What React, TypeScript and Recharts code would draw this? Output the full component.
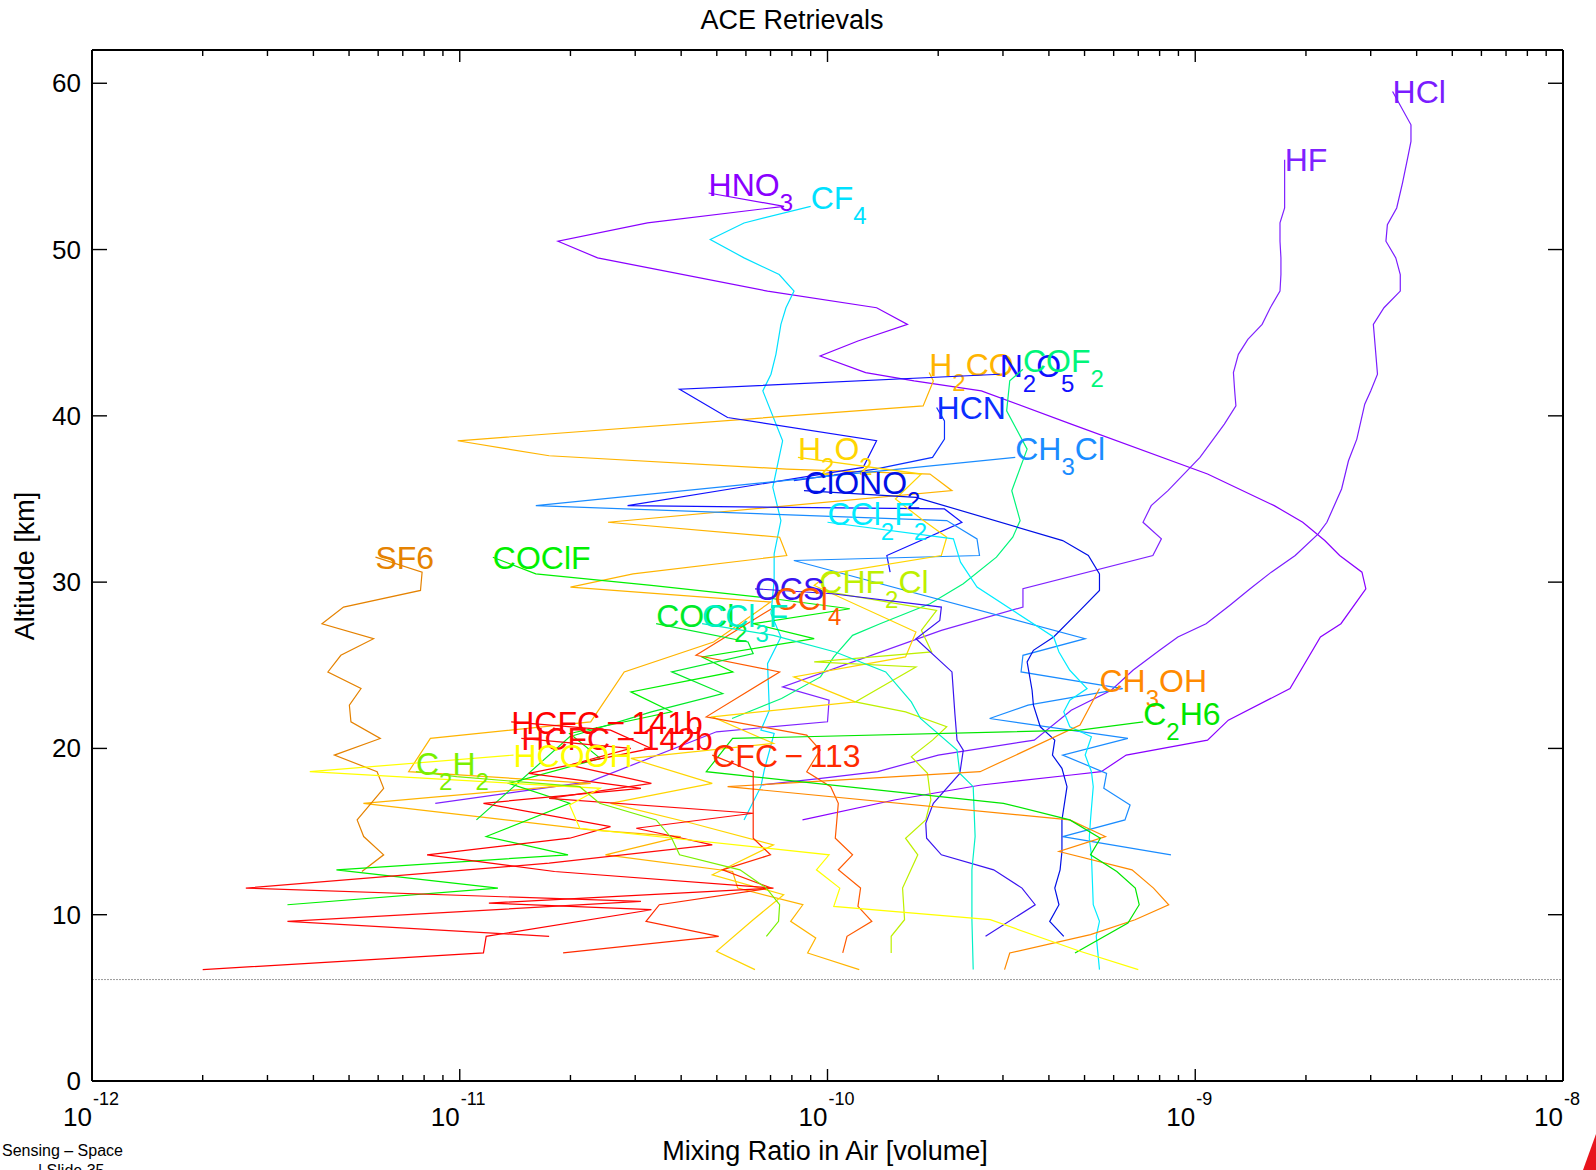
import React from 'react';
import {ScatterChart, Scatter, XAxis, YAxis, ReferenceLine} from 'recharts';

const W = 1596;
const H = 1170;
const PLOT = {left: 92, right: 1563, top: 50, bottom: 1081};
const FONT = '"Liberation Sans", Arial, Helvetica, sans-serif';

const decades = [1e-12, 1e-11, 1e-10, 1e-9, 1e-8];
const decadeExp = ['-12', '-11', '-10', '-9', '-8'];
const altTicks = [0, 10, 20, 30, 40, 50, 60];
const tropopause = 6.1;

// profiles as [altitude km, volume mixing ratio], top point first
const hcl = [[59.5,3.44e-9],[57.5,3.86e-9],[56.5,3.86e-9],[55.5,3.78e-9],[54.0,3.66e-9],[52.5,3.53e-9],[51.5,3.33e-9],[50.5,3.3e-9],[49.5,3.51e-9],[48.5,3.61e-9],[47.5,3.61e-9],[46.5,3.26e-9],[45.5,3.05e-9],[44.0,3.09e-9],[42.5,3.13e-9],[41.5,3.0e-9],[40.7,2.89e-9],[38.6,2.75e-9],[37.3,2.61e-9],[35.6,2.5e-9],[33.6,2.28e-9],[32.9,2.16e-9],[31.6,1.87e-9],[30.6,1.61e-9],[29.6,1.41e-9],[28.6,1.24e-9],[27.5,1.07e-9],[26.7,8.97e-10],[25.9,8.0e-10],[24.7,6.77e-10],[23.5,5.91e-10],[22.3,4.6e-10],[20.5,3.65e-10],[19.6,2.0e-10],[18.6,1.37e-10],[18.2,9.6e-11],[17.8,6.6e-11]];
const hf = [[55.4,1.75e-9],[52.5,1.75e-9],[51.6,1.7e-9],[50.5,1.7e-9],[49.5,1.71e-9],[48.5,1.71e-9],[47.5,1.7e-9],[46.5,1.6e-9],[45.5,1.52e-9],[44.6,1.39e-9],[43.7,1.31e-9],[42.6,1.27e-9],[41.5,1.28e-9],[40.6,1.29e-9],[39.5,1.2e-9],[37.5,1.03e-9],[35.5,8.43e-10],[34.6,7.59e-10],[33.6,7.21e-10],[32.6,8.09e-10],[31.6,7.67e-10],[29.6,3.4e-10],[28.5,3.4e-10],[27.1,2.04e-10],[23.7,7.55e-11],[22.9,1.01e-10],[21.6,1.0e-10],[21.0,4.99e-11],[18.0,2.26e-11],[16.7,8.58e-12]];
const hno3 = [[53.4,4.75e-11],[52.6,7.62e-11],[51.6,3.24e-11],[50.5,1.85e-11],[49.5,2.37e-11],[47.5,6.87e-11],[46.5,1.36e-10],[45.5,1.65e-10],[44.5,1.21e-10],[43.6,9.55e-11],[42.6,1.27e-10],[42.1,1.72e-10],[41.5,2.62e-10],[39.5,4.6e-10],[36.5,1.08e-9],[34.6,1.64e-9],[33.6,1.96e-9],[32.5,2.25e-9],[31.6,2.47e-9],[30.6,2.84e-9],[29.6,2.91e-9],[27.5,2.49e-9],[26.7,2.19e-9],[23.6,1.81e-9],[21.7,1.23e-9],[20.5,1.08e-9],[19.6,6.49e-10],[18.6,5.55e-10],[18.4,4.6e-10],[17.8,2.62e-10],[16.9,1.52e-10],[15.7,8.55e-11]];
const cf4 = [[52.6,9.0e-11],[51.6,5.93e-11],[50.6,4.8e-11],[49.5,5.93e-11],[48.5,7.39e-11],[47.5,8.11e-11],[46.5,7.71e-11],[45.5,7.47e-11],[43.7,7.24e-11],[42.5,7.02e-11],[41.5,6.67e-11],[38.5,7.55e-11],[35.7,7.1e-11],[33.7,7.47e-11],[31.7,7.16e-11],[30.1,7.16e-11],[28.1,7.02e-11],[26.7,7.47e-11],[25.1,6.87e-11],[22.3,6.95e-11],[21.1,6.59e-11],[20.9,7.16e-11],[18.7,6.73e-11],[17.7,6.59e-11],[15.7,5.93e-11]];
const h2co = [[42.6,1.89e-10],[42.1,1.94e-10],[40.6,1.82e-10],[38.5,9.87e-12],[37.6,1.75e-11],[36.8,7.75e-11],[36.5,1.9e-10],[35.5,2.18e-10],[33.6,2.53e-11],[32.7,7.41e-11],[31.6,7.75e-11],[30.5,2.96e-11],[29.7,2.0e-11],[28.8,7.0e-11],[26.4,4.9e-11],[24.6,2.8e-11],[21.6,2.27e-11],[20.6,8.32e-12],[18.6,7.26e-12],[17.9,2.27e-11],[16.7,5.47e-12],[15.1,2.27e-11],[14.7,3.99e-11],[13.6,2.49e-11],[12.6,5.52e-11],[11.6,5.7e-11],[10.6,8.57e-11],[9.6,7.94e-11],[8.6,9.29e-11],[7.7,8.83e-11],[6.7,1.22e-10]];
const n2o5 = [[42.5,2.94e-10],[41.6,3.96e-11],[39.9,5.35e-11],[38.5,1.36e-10],[36.9,1.25e-10],[34.6,2.86e-11],[34.4,2.08e-10],[33.6,2.32e-10],[31.6,1.45e-10],[30.6,1.48e-10]];
const cof2 = [[42.8,3.4e-10],[42.1,3.13e-10],[40.3,3.07e-10],[38.0,3.49e-10],[35.5,3.17e-10],[33.7,3.34e-10],[32.7,3.19e-10],[31.5,2.88e-10],[29.9,2.34e-10],[28.7,1.9e-10],[27.5,1.39e-10],[26.8,1.17e-10],[25.5,1.04e-10],[24.3,9.57e-11],[23.0,7.5e-11],[21.8,5.5e-11]];
const hcn = [[40.5,1.98e-10],[39.7,2.08e-10],[38.6,2.08e-10],[37.5,1.93e-10],[36.8,1.35e-10],[36.1,8.1e-11]];
const ch3cl = [[37.5,3.24e-10],[34.6,1.61e-11],[33.7,2.11e-10],[32.6,2.55e-10],[31.6,2.59e-10],[31.3,8.1e-11],[26.6,5.02e-10],[25.6,3.4e-10],[24.6,3.36e-10],[23.6,6.35e-10],[22.6,3.51e-10],[21.8,2.76e-10],[20.6,6.56e-10],[19.6,4.36e-10],[18.5,5.74e-10],[17.6,5.64e-10],[16.6,6.65e-10],[15.7,6.44e-10],[14.7,4.36e-10],[13.6,8.59e-10]];
const h2o2 = [[37.5,8.31e-11],[36.5,1.8e-10],[35.0,1.53e-10],[33.8,1.8e-10],[32.7,2.11e-10],[31.6,2.04e-10],[30.5,1.01e-10],[29.8,9.2e-11],[27.0,1.74e-10],[25.5,1.63e-10],[24.3,8.1e-11],[22.8,1.19e-10],[21.9,4.86e-11],[20.3,7.13e-11],[19.4,2.92e-11],[17.9,4.86e-11],[16.7,2.57e-11],[15.5,4.28e-11],[14.2,7.13e-11],[12.4,4.86e-11],[11.2,7.6e-11],[9.7,6.28e-11],[7.8,4.99e-11],[6.7,6.35e-11]];
const clono2 = [[35.5,8.63e-11],[35.1,1.74e-10],[32.5,4.36e-10],[31.6,5.12e-10],[30.5,5.49e-10],[29.5,5.49e-10],[28.3,4.86e-10],[26.7,4.12e-10],[25.9,3.63e-10],[25.2,3.49e-10],[23.5,3.6e-10],[22.6,3.63e-10],[21.3,3.79e-10],[20.5,4.15e-10],[19.6,4.09e-10],[18.8,4.34e-10],[17.7,4.48e-10],[15.7,4.34e-10],[13.8,4.34e-10],[12.7,4.29e-10],[11.6,4.15e-10],[10.6,4.26e-10],[9.6,4.02e-10],[8.7,4.39e-10]];
const ccl2f2 = [[33.6,1.0e-10],[32.6,2.2e-10],[31.2,2.3e-10],[29.7,2.55e-10],[26.7,4.12e-10],[25.8,4.26e-10],[24.7,4.56e-10],[23.6,5.08e-10],[22.9,4.56e-10],[22.2,4.39e-10],[21.3,4.56e-10],[20.7,5.22e-10],[19.6,5.02e-10],[18.6,5.22e-10],[17.7,5.28e-10],[15.7,5.19e-10],[14.6,5.15e-10],[13.6,5.22e-10],[10.6,5.28e-10],[9.6,5.49e-10],[8.7,5.38e-10],[6.7,5.49e-10]];
const sf6 = [[31.5,5.9e-12],[30.6,7.9e-12],[29.5,7.82e-12],[28.5,4.83e-12],[27.5,4.22e-12],[26.6,5.83e-12],[25.6,4.75e-12],[24.6,4.38e-12],[23.6,5.39e-12],[22.6,5.01e-12],[21.6,5.06e-12],[20.6,6.08e-12],[19.6,4.56e-12],[18.6,5.96e-12],[17.6,6.21e-12],[15.7,5.26e-12],[14.7,5.48e-12],[13.6,6.21e-12],[12.6,5.42e-12]];
const coclf = [[31.5,1.23e-11],[30.5,1.61e-11],[29.8,3.32e-11],[29.0,7.13e-11],[28.4,1.15e-10],[27.5,6.28e-11],[26.6,9.2e-11],[25.5,4.56e-11],[24.6,5.53e-11],[23.4,2.92e-11],[22.2,3.77e-11],[20.9,1.99e-11],[19.4,2.41e-11],[17.9,1.36e-11],[16.7,1.99e-11],[14.7,1.18e-11],[13.6,1.97e-11],[12.7,4.62e-12],[11.6,1.27e-11],[10.6,3.4e-12]];
const chf2cl = [[29.5,9.5e-11],[28.3,1.98e-10],[27.1,1.8e-10],[25.8,1.92e-10],[25.2,9.2e-11],[24.9,1.74e-10],[22.8,1.19e-10],[22.2,1.63e-10],[21.3,2.11e-10],[20.5,1.93e-10],[19.5,1.69e-10],[18.5,1.87e-10],[16.9,1.91e-10],[15.7,1.85e-10],[14.6,1.63e-10],[13.6,1.76e-10],[11.6,1.6e-10],[9.7,1.62e-10],[8.7,1.49e-10],[7.7,1.49e-10]];
const ocs = [[29.6,6.35e-11],[29.3,1.03e-10],[28.5,2.04e-10],[27.7,2.02e-10],[26.6,1.74e-10],[24.6,2.18e-10],[22.1,2.22e-10],[20.5,2.25e-10],[19.9,2.34e-10],[18.5,2.29e-10],[16.7,1.94e-10],[15.5,1.85e-10],[14.6,1.86e-10],[13.6,2.04e-10],[12.7,2.83e-10],[11.6,3.38e-10],[10.6,3.67e-10],[8.7,2.69e-10]];
const ccl4 = [[28.5,7.18e-11],[28.1,6.69e-11],[25.6,4.39e-11],[24.6,7.41e-11],[21.9,4.68e-11],[20.8,8.78e-11],[19.9,9.55e-11],[18.6,8.78e-11],[17.7,1.02e-10],[16.7,1.07e-10],[14.6,1.05e-10],[13.6,1.17e-10],[12.7,1.07e-10],[11.6,1.23e-10],[10.5,1.21e-10],[9.6,1.32e-10],[8.7,1.13e-10],[7.7,1.1e-10]];
const cocl2 = [[27.5,3.42e-11],[26.4,6.08e-11],[25.7,6.28e-11],[24.6,3.77e-11],[23.3,5.19e-11],[22.2,3.32e-11],[20.7,1.99e-11],[15.7,1.11e-11]];
const ccl3f = [[27.5,4.56e-11],[26.8,7.13e-11],[25.8,1.05e-10],[24.6,1.44e-10],[22.8,1.69e-10],[21.8,1.79e-10],[19.9,2.25e-10],[18.5,2.29e-10],[17.7,2.49e-10],[14.7,2.52e-10],[12.7,2.47e-10],[9.7,2.47e-10],[6.7,2.49e-10]];
const ch3oh = [[23.6,5.49e-10],[21.4,4.86e-10],[18.6,2.6e-10],[17.7,5.35e-11],[15.7,4.56e-10],[14.7,5.7e-10],[13.8,4.26e-10],[12.7,6.73e-10],[11.6,7.7e-10],[10.6,8.47e-10],[9.7,6.86e-10],[8.8,5.19e-10],[7.7,3.13e-10],[6.7,3.03e-10]];
const c2h6 = [[21.6,7.22e-10],[21.1,4.86e-10],[20.6,5.52e-11],[18.6,4.68e-11],[16.7,3.01e-10],[15.7,4.56e-10],[14.6,5.52e-10],[13.6,5.19e-10],[12.6,6.12e-10],[11.6,6.87e-10],[10.6,7.04e-10],[9.5,6.56e-10],[7.7,4.71e-10]];
const hcfc141b = [[21.6,1.38e-11],[21.1,2.57e-11],[20.0,3.32e-11],[18.5,1.54e-11],[17.6,3.11e-11],[16.7,1.16e-11],[15.3,2.57e-11],[14.6,1.99e-11],[13.6,8.15e-12],[12.6,1.81e-11],[11.6,7.13e-11],[10.7,1.2e-11],[10.3,3.32e-11],[8.7,1.18e-11],[7.7,1.16e-11],[6.7,2.0e-12]];
const hcfc142b = [[20.6,1.47e-11],[20.0,2.92e-11],[19.0,1.99e-11],[17.9,3.32e-11],[17.0,1.75e-11],[16.1,6.28e-11],[15.2,3.02e-11],[14.2,4.86e-11],[13.1,1.75e-11],[11.6,2.62e-12],[10.8,3.11e-11],[9.6,3.4e-12],[8.7,1.75e-11]];
const cfc113 = [[19.6,4.86e-11],[18.6,6.28e-11],[14.6,6.28e-11],[13.6,7.0e-11],[12.7,5.18e-11],[11.6,7.04e-11],[10.6,3.49e-11],[9.6,3.21e-11],[8.7,5.06e-11],[7.7,1.91e-11]];
const hcooh = [[19.6,1.4e-11],[18.6,3.91e-12],[17.6,2.41e-11],[16.6,1.99e-11],[15.2,2.12e-11],[13.6,1.01e-10],[12.7,9.33e-11],[11.6,1.08e-10],[10.5,1.04e-10],[9.7,2.77e-10],[7.8,4.86e-10],[6.7,7.0e-10]];
const c2h2 = [[18.6,7.6e-12],[18.3,9.81e-12],[17.7,2.12e-11],[16.7,2.4e-11],[15.7,3.42e-11],[14.6,3.77e-11],[13.6,3.96e-11],[12.7,5.78e-11],[11.6,6.82e-11],[10.6,7.41e-11],[9.6,7.36e-11],[8.7,6.82e-11]];

// "_" marks the next character as a subscript; the minus is set with thin spaces
const species = [
  {label: 'HCl', color: '#7a1cff', pts: hcl},
  {label: 'HF', color: '#7f22ff', pts: hf},
  {label: 'HNO_3', color: '#8a00ff', pts: hno3},
  {label: 'CF_4', color: '#00e1ff', pts: cf4},
  {label: 'H_2CO', color: '#ffb400', pts: h2co},
  {label: 'N_2O_5', color: '#1010ff', pts: n2o5},
  {label: 'COF_2', color: '#00f57a', pts: cof2},
  {label: 'HCN', color: '#0a30ff', pts: hcn},
  {label: 'CH_3Cl', color: '#1a8cff', pts: ch3cl},
  {label: 'H_2O_2', color: '#ffd500', pts: h2o2},
  {label: 'ClONO_2', color: '#0010e6', pts: clono2},
  {label: 'CCl_2F_2', color: '#00ecff', pts: ccl2f2},
  {label: 'SF6', color: '#e58200', pts: sf6},
  {label: 'COClF', color: '#00f000', pts: coclf},
  {label: 'CHF_2Cl', color: '#bef000', pts: chf2cl},
  {label: 'OCS', color: '#3a14f0', pts: ocs},
  {label: 'CCl_4', color: '#ff5a00', pts: ccl4},
  {label: 'COCl_2', color: '#00ea28', pts: cocl2},
  {label: 'CCl_3F', color: '#00f0c8', pts: ccl3f},
  {label: 'CH_3OH', color: '#ff8a00', pts: ch3oh},
  {label: 'C_2H6', color: '#00e600', pts: c2h6},
  {label: 'HCFC\u2009−\u2009141b', color: '#ff0000', pts: hcfc141b},
  {label: 'HCFC\u2009−\u2009142b', color: '#ff0a0a', pts: hcfc142b},
  {label: 'CFC\u2009−\u2009113', color: '#ff2a00', pts: cfc113},
  {label: 'HCOOH', color: '#ffff00', pts: hcooh},
  {label: 'C_2H_2', color: '#7af000', pts: c2h2},
];

function Formula({x, y, text, color}: {x: number; y: number; text: string; color: string}) {
  const hasSub = text.includes('_');
  const parts: {t: string; sub: boolean}[] = [];
  for (let i = 0; i < text.length; i++) {
    if (text[i] === '_') {
      parts.push({t: text[i + 1], sub: true});
      i++;
    } else {
      const last = parts[parts.length - 1];
      if (last && !last.sub) last.t += text[i];
      else parts.push({t: text[i], sub: false});
    }
  }
  let shift = 0;
  return (
    <text x={x} y={y + (hasSub ? 3 : 11.7)} fill={color} fontFamily={FONT} fontSize={32}>
      {parts.map((p, i) => {
        const dy = (p.sub ? 15 : 0) - shift;
        shift = p.sub ? 15 : 0;
        return (
          <tspan key={i} dy={dy} fontSize={p.sub ? 24 : 32}>
            {p.t}
          </tspan>
        );
      })}
    </text>
  );
}

// only the top point of each profile carries the species name
const labelShape = (sp: (typeof species)[number]) => (props: any) => {
  const p = props.payload;
  const [a, v] = sp.pts[0];
  if (!p || p.alt !== a || p.v !== v) return <g />;
  return <Formula x={props.cx} y={props.cy} text={sp.label} color={sp.color} />;
};

const minorTicks = decades.slice(0, -1).flatMap((d) => [2, 3, 4, 5, 6, 7, 8, 9].map((m) => m * d));
const xTicks = [...decades, ...minorTicks];
const majorIndex = (v: number) => decades.findIndex((d) => Math.abs(d - v) / d < 1e-6);

const BottomTick = ({x, payload}: any) => {
  const i = majorIndex(payload.value);
  const major = i >= 0;
  return (
    <g>
      <line x1={x} x2={x} y1={PLOT.bottom} y2={PLOT.bottom - (major ? 12 : 6)} stroke="#000" strokeWidth={1.4} />
      {major && (
        <g fontFamily={FONT} fill="#000">
          <text x={x} y={PLOT.bottom + 45} textAnchor="end" fontSize={26}>
            10
          </text>
          <text x={x + 1} y={PLOT.bottom + 24} fontSize={18}>
            {decadeExp[i]}
          </text>
        </g>
      )}
    </g>
  );
};

const TopTick = ({x, payload}: any) => {
  const major = majorIndex(payload.value) >= 0;
  return <line x1={x} x2={x} y1={PLOT.top} y2={PLOT.top + (major ? 12 : 6)} stroke="#000" strokeWidth={1.4} />;
};

const LeftTick = ({y, payload}: any) => (
  <g>
    <line x1={PLOT.left} x2={PLOT.left + 15} y1={y} y2={y} stroke="#000" strokeWidth={1.4} />
    <text x={PLOT.left - 11} y={y + 9} textAnchor="end" fontFamily={FONT} fontSize={26} fill="#000">
      {payload.value}
    </text>
  </g>
);

const RightTick = ({y}: any) => (
  <line x1={PLOT.right} x2={PLOT.right - 15} y1={y} y2={y} stroke="#000" strokeWidth={1.4} />
);

export default function App() {
  const axisLine = {stroke: '#000', strokeWidth: 2};
  // axes need a non-zero box to be drawn, so each takes 1px out of the margin
  return (
    <div style={{position: 'absolute', left: 0, top: 0, width: W, height: H, background: '#fff'}}>
      <ScatterChart
        width={W}
        height={H}
        margin={{top: PLOT.top - 1, right: W - PLOT.right - 1, bottom: H - PLOT.bottom - 1, left: PLOT.left - 1}}>
        <XAxis
          type="number"
          dataKey="v"
          scale="log"
          domain={[1e-12, 1e-8]}
          allowDataOverflow
          ticks={xTicks}
          interval={0}
          height={1}
          tickSize={0}
          tickLine={false}
          axisLine={axisLine}
          tick={<BottomTick />}
        />
        <XAxis
          xAxisId="top"
          orientation="top"
          type="number"
          dataKey="v"
          scale="log"
          domain={[1e-12, 1e-8]}
          allowDataOverflow
          ticks={xTicks}
          interval={0}
          height={1}
          tickSize={0}
          tickLine={false}
          axisLine={axisLine}
          tick={<TopTick />}
        />
        <YAxis
          type="number"
          dataKey="alt"
          domain={[0, 62]}
          allowDataOverflow
          ticks={altTicks}
          interval={0}
          width={1}
          tickSize={0}
          tickLine={false}
          axisLine={axisLine}
          tick={<LeftTick />}
        />
        <YAxis
          yAxisId="right"
          orientation="right"
          type="number"
          dataKey="alt"
          domain={[0, 62]}
          allowDataOverflow
          ticks={altTicks}
          interval={0}
          width={1}
          tickSize={0}
          tickLine={false}
          axisLine={axisLine}
          tick={<RightTick />}
        />
        <ReferenceLine y={tropopause} stroke="#9a9a9a" strokeDasharray="2 1" strokeWidth={1} />
        {species.map((sp) => (
          <Scatter
            key={sp.label}
            name={sp.label}
            data={sp.pts.map(([alt, v]) => ({alt, v}))}
            fill={sp.color}
            line={{stroke: sp.color, strokeWidth: 1.2}}
            shape={labelShape(sp)}
            isAnimationActive={false}
          />
        ))}
      </ScatterChart>
      <svg
        width={W}
        height={H}
        style={{position: 'absolute', left: 0, top: 0, pointerEvents: 'none'}}
        fontFamily={FONT}>
        <text x={792} y={29} textAnchor="middle" fontSize={27} fill="#000">
          ACE Retrievals
        </text>
        <text x={825} y={1160} textAnchor="middle" fontSize={27} fill="#000">
          Mixing Ratio in Air [volume]
        </text>
        <text
          x={34}
          y={566}
          textAnchor="middle"
          fontSize={27}
          fill="#000"
          transform="rotate(-90 34 566)">
          Altitude [km]
        </text>
        <text x={2} y={1156} fontSize={16} fill="#000">
          Sensing – Space
        </text>
        <text x={38} y={1176} fontSize={16} fill="#000">
          | Slide 35
        </text>
        <polygon points="1596,1134 1596,1170 1583,1170" fill="#e8141c" />
      </svg>
    </div>
  );
}
